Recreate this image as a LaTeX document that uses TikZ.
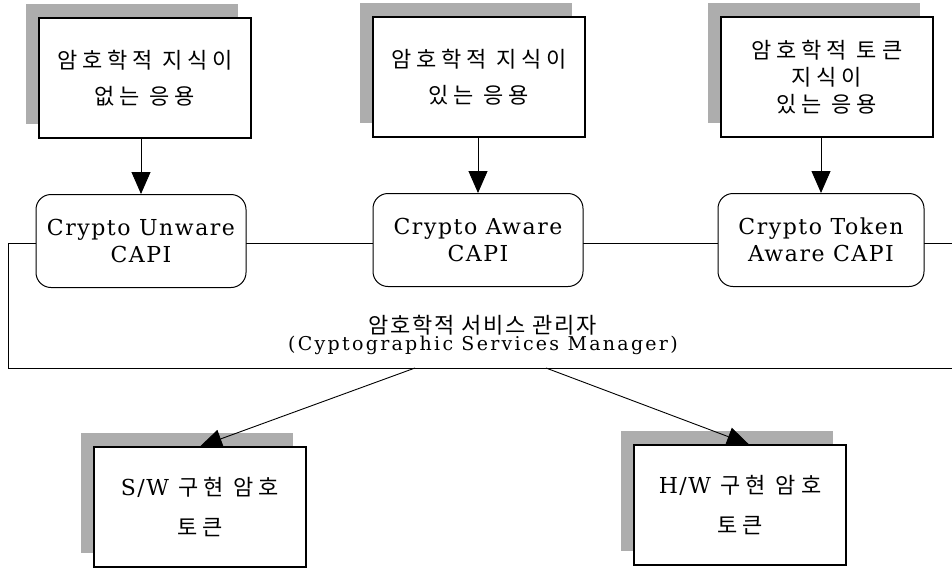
\documentclass[tikz,border=0pt]{standalone}
\usepackage{fontspec}
\setmainfont{DejaVu Serif}
\newfontfamily\lat{DejaVu Serif}[LetterSpace=7]
\newfontfamily\latl{DejaVu Serif}[LetterSpace=12]
\newfontfamily\kr{Noto Sans CJK KR}[LetterSpace=22]
\newfontfamily\krl{Noto Sans CJK KR}[LetterSpace=8]
\usetikzlibrary{arrows.meta,shadows}
\definecolor{shadowgray}{gray}{0.68}
\tikzset{
  appbox/.style={draw, line width=1.1pt, fill=white, minimum width=212pt, minimum height=120pt,
    align=center, inner sep=0pt,
    drop shadow={shadow xshift=-13pt, shadow yshift=14pt, fill=shadowgray, opacity=1}},
  capibox/.style={draw, line width=1pt, fill=white, rounded corners=15pt, minimum width=210pt,
    minimum height=93pt, align=center, inner sep=0pt, font={\lat\fontsize{22}{27}\selectfont}},
  arr/.style={line width=0.9pt, -{Triangle[width=19pt,length=22pt]}},
  conn/.style={line width=0.9pt}
}
\begin{document}
\begin{tikzpicture}[x=1pt,y=-1pt]
\useasboundingbox (0,0) rectangle (952,568);
% services manager region
\node[conn, draw, minimum width=1000pt, minimum height=125pt, anchor=north west, inner sep=0pt] (csm) at (8,243) {};
\node[align=center, inner sep=0pt] (lbl) at (483,335)
  {{\krl\fontsize{22}{20}\selectfont 암호학적 서비스 관리자}\\[-1pt]
   {\latl\fontsize{19}{20}\selectfont (Cyptographic Services Manager)}};
% applications
\node[appbox, font={\kr\fontsize{22}{36}\selectfont}] (t1) at (145,78) {암호학적 지식이\\없는 응용};
\node[appbox, font={\kr\fontsize{22}{36}\selectfont}] (t2) at (479,77) {암호학적 지식이\\있는 응용};
\node[appbox, font={\kr\fontsize{22}{27}\selectfont}] (t3) at (827,77) {암호학적 토큰\\지식이\\있는 응용};
% CAPIs
\node[capibox] (c1) at (141,241) {Crypto Unware\\CAPI};
\node[capibox] (c2) at (478,240) {Crypto Aware\\CAPI};
\node[capibox, minimum width=206pt] (c3) at (821,240) {Crypto Token\\Aware CAPI};
% tokens
\node[appbox, font={\kr\fontsize{22}{40}\selectfont}] (sw) at (200,507) {{\lat S/W} 구현 암호\\토큰};
\node[appbox, font={\kr\fontsize{22}{40}\selectfont}] (hw) at (740,505) {{\lat H/W} 구현 암호\\토큰};
% connectors
\draw[arr] (c1.north |- t1.south) -- (c1.north);
\draw[arr] (c2.north |- t2.south) -- (c2.north);
\draw[arr] (c3.north |- t3.south) -- (c3.north);
\coordinate (m1) at (415,368);
\coordinate (m2) at (546,368);
\draw[arr] (m1) -- (sw.north);
\draw[arr] (m2) -- ([xshift=9pt]hw.north);
\end{tikzpicture}
\end{document}
